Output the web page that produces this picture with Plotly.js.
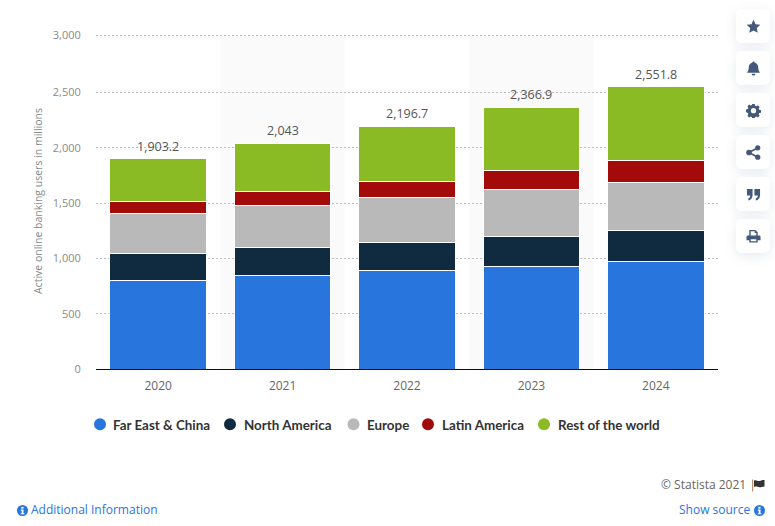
<!DOCTYPE html>
<html><head><meta charset="utf-8">
<script src="https://cdn.plot.ly/plotly-3.0.1.min.js"></script>
<style>
html,body{margin:0;padding:0;background:#fff;width:775px;height:526px;overflow:hidden}
#chart{position:absolute;left:0;top:0;width:775px;height:526px}
.btn{position:absolute;left:736px;width:34px;height:34px;background:#fff;border-radius:5px;box-shadow:0 3px 12px rgba(70,90,130,.13);display:flex;align-items:center;justify-content:center}
.abs{position:absolute}
</style></head><body>
<div id="chart"></div>
<script>
const categories = ['2020','2021','2022','2023','2024'];
const farEast = [804, 849, 887, 931, 975];
const northAmerica = [244, 253, 260, 270, 281];
const europe = [360, 379, 406, 424, 432];
const latinAmerica = [109, 126, 144, 171, 198];
const restOfWorld = [386.2, 436, 499.7, 570.9, 665.8];
const totals = [1903.2, 2043, 2196.7, 2366.9, 2551.8];
const totalLabels = ['1,903.2','2,043','2,196.7','2,366.9','2,551.8'];
const seriesNames = ['Far East & China','North America','Europe','Latin America','Rest of the world'];
const seriesValues = [farEast, northAmerica, europe, latinAmerica, restOfWorld];
const seriesColors = ['#2875de','#102a40','#b9b9b9','#a30a0a','#8abb24'];
const yTicks = [0,500,1000,1500,2000,2500,3000];

const W=775,H=526,L=96,R=718,T=32.5,B=369.5;
const px=x=>(x-L)/(R-L), py=y=>(B-y)/(B-T);
const font='"Open Sans", sans-serif';
const barWidth=0.776;
// the reference draws its top gridline about 1.5px above the linear position
const yTickPositions=yTicks.map(v=>v===3000?3018:v);

const traces=seriesNames.map((n,i)=>({
  type:'bar',name:n,x:categories.map((_,k)=>k),y:seriesValues[i],
  width:barWidth,marker:{color:seriesColors[i],line:{color:'#fff',width:1}},
  hoverinfo:'skip',showlegend:false
}));

const shapes=[];
[1,3].forEach(k=>shapes.push({type:'rect',layer:'below',xref:'paper',yref:'paper',x0:k/5,x1:(k+1)/5,y0:0,y1:py(36),fillcolor:'#fafafa',line:{width:0}}));

const annotations=totals.map((t,k)=>({xref:'x',yref:'y',x:k,y:t,text:totalLabels[k],showarrow:false,yanchor:'bottom',yshift:2,font:{family:font,size:12.5,color:'#555'}}));

// legend
const legendDot=[100,230,353.5,428,544], legendText=[113,244,367,442,558];
seriesNames.forEach((n,i)=>{
  shapes.push({type:'circle',xref:'paper',yref:'paper',x0:px(legendDot[i]-6),x1:px(legendDot[i]+6),y0:py(431),y1:py(419),fillcolor:seriesColors[i],line:{width:0}});
  annotations.push({xref:'paper',yref:'paper',x:px(legendText[i]),y:py(426),xanchor:'left',yanchor:'middle',showarrow:false,xshift:-2,text:'<b>'+n.replace('&','&amp;')+'</b>',font:{family:'Lato, sans-serif',size:13.4,color:'#333'}});
});
// footer
annotations.push({xref:'paper',yref:'paper',x:px(746),y:py(485),xanchor:'right',yanchor:'middle',xshift:2,showarrow:false,text:'© Statista 2021',font:{family:font,size:12,color:'#666'}});
annotations.push({xref:'paper',yref:'paper',x:px(31),y:py(510),xanchor:'left',yanchor:'middle',xshift:-2,showarrow:false,text:'Additional Information',font:{family:font,size:12,color:'#2875de'}});
annotations.push({xref:'paper',yref:'paper',x:px(751),y:py(510),xanchor:'right',yanchor:'middle',xshift:2,showarrow:false,text:'Show source',font:{family:font,size:12,color:'#2875de'}});

const layout={
  width:W,height:H,paper_bgcolor:'#fff',plot_bgcolor:'rgba(0,0,0,0)',
  margin:{l:L,r:W-R,t:T,b:H-B,pad:0},barmode:'stack',bargap:0.224,
  xaxis:{type:'linear',range:[-0.5,4.5],tickvals:categories.map((_,k)=>k),ticktext:categories,
    showgrid:false,zeroline:false,showline:true,linecolor:'#0d0d0d',linewidth:1,
    ticks:'outside',ticklen:6,tickcolor:'rgba(0,0,0,0)',tickfont:{family:font,size:12,color:'#666'}},
  yaxis:{range:[0,3039],tickvals:yTickPositions,ticktext:yTicks.map(v=>v.toLocaleString('en-US')),
    showgrid:true,gridcolor:'#bdbdbd',griddash:'2px,2px',gridwidth:1,zeroline:false,showline:false,
    ticks:'outside',ticklen:12,tickcolor:'rgba(0,0,0,0)',tickfont:{family:font,size:11,color:'#8a8a8a'},
    title:{text:'Active online banking users in millions',standoff:8,font:{family:font,size:10.5,color:'#7f8a8a'}}},
  shapes,annotations,showlegend:false,hovermode:false
};
Plotly.newPlot('chart',traces,layout,{displayModeBar:false,staticPlot:true});

// side buttons and small icons
const c='#44597a';
const icons=[
 '<path d="M8 .8l2.2 4.7 5.1.6-3.8 3.5 1 5.1L8 12.2l-4.5 2.5 1-5.1L.7 6.1l5.1-.6z"/>',
 '<path d="M8 .5c.7 0 1.2.5 1.2 1.1C11.5 2.2 13 4 13 6.5c0 3.5 1 4.7 2 6H1c1-1.300 2-2.500 2-6 0-2.500 1.500-4.300 3.800-4.900C6.800 1 7.300.5 8 .5zM6 13.500h4a2 2 0 0 1-4 0z"/>',
 '<path fill-rule="evenodd" d="M6.700 1h2.600l.4 1.900 1.300.6 1.700-1 1.800 1.800-1 1.700.6 1.300 1.900.4v2.600l-1.900.4-.6 1.300 1 1.700-1.800 1.800-1.700-1-1.300.6-.4 1.900H6.700l-.4-1.900-1.300-.6-1.700 1-1.800-1.800 1-1.700-.6-1.300L0 9.500V6.900l1.900-.4.600-1.300-1-1.700 1.800-1.800 1.700 1 1.300-.6zM8 5.400a2.800 2.800 0 1 0 0 5.600 2.800 2.800 0 0 0 0-5.600z"/>',
 '<circle cx="3.200" cy="8" r="3"/><circle cx="12.500" cy="3" r="2.800"/><circle cx="12.500" cy="13" r="2.800"/><path d="M3.200 8L12.500 3M3.200 8l9.300 5" stroke="'+c+'" stroke-width="1.800"/>',
 '<path d="M1 2h6v6.500C7 12 5 14 2.500 14.300V12C3.800 11.800 4.500 10.800 4.500 9H1zM9 2h6v6.500c0 3.500-2 5.500-4.500 5.800V12c1.300-.2 2-1.200 2-3H9z"/>',
 '<path fill-rule="evenodd" d="M3.500 1h6.500L12.500 3.500V7h1.500A1.500 1.500 0 0 1 15.500 8.500V12H12.500v2.500h-9V12H.5V8.500A1.500 1.500 0 0 1 2 7h1.500zM5 2.500V7h6V4.200H9.300V2.500zM5 11v2h6v-2z"/>'
];
icons.forEach((p,i)=>{
  const d=document.createElement('div');d.className='btn';d.style.top=(9+i*42)+'px';
  d.innerHTML='<svg width="15" height="15" viewBox="0 0 16 16" fill="'+c+'">'+p+'</svg>';
  document.body.appendChild(d);
});
function info(x,y){
  const d=document.createElement('div');d.className='abs';d.style.left=(x-5.5)+'px';d.style.top=(y-5.5)+'px';
  d.innerHTML='<svg width="11" height="11" viewBox="0 0 12 12" style="display:block"><circle cx="6" cy="6" r="6" fill="#2875de"/><rect x="4.700" y="2" width="2.400" height="2" fill="#fff"/><path d="M4.200 5h2.900v4h1v1.200H4.200V9h.9V6.200h-.9z" fill="#fff"/></svg>';
  document.body.appendChild(d);
}
info(22,510);info(759,510);
const f=document.createElement('div');f.className='abs';f.style.left='752px';f.style.top='479px';
f.innerHTML='<svg width="13" height="13" viewBox="0 0 13 13" style="display:block"><rect x="0" y="0.500" width="1.200" height="12" fill="#b98f70"/><path d="M2 1.500c2.500-1 3.500 1 5.500.5S10.500 1 12.500 1v6.500c-2 .2-3 .8-5 .8S4.500 7 2 8z" fill="#333"/></svg>';
document.body.appendChild(f);
</script>
</body></html>
